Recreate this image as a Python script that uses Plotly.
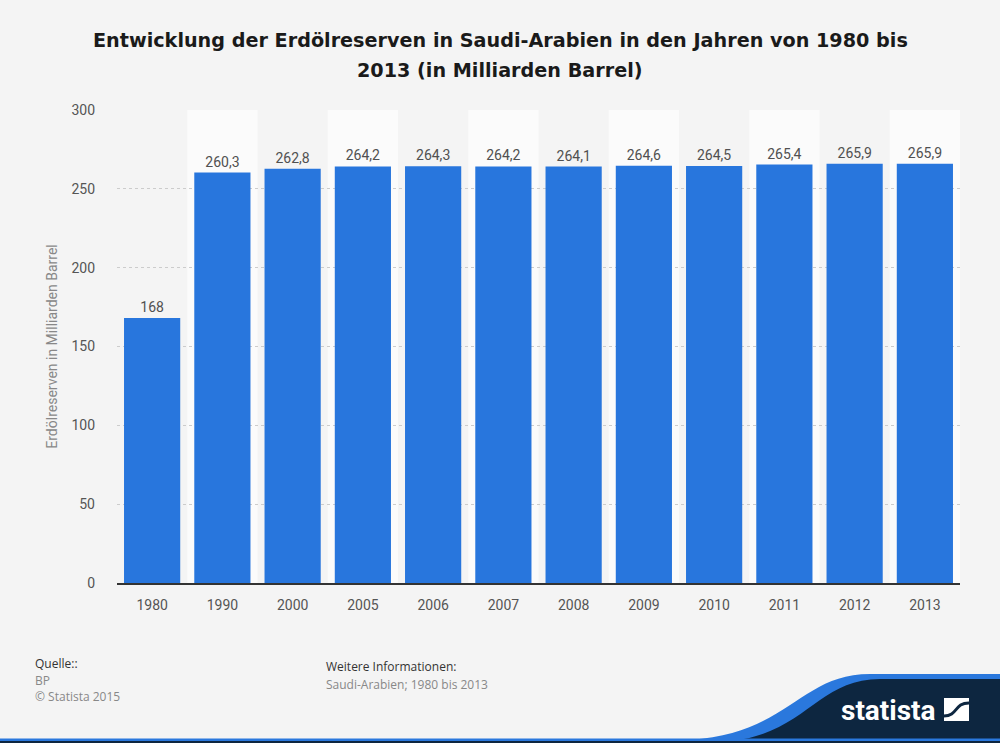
import plotly.graph_objects as go

years = ["1980", "1990", "2000", "2005", "2006", "2007", "2008", "2009", "2010", "2011", "2012", "2013"]
values = [168, 260.3, 262.8, 264.2, 264.3, 264.2, 264.1, 264.6, 264.5, 265.4, 265.9, 265.9]
labels = [f"{v:g}".replace(".", ",") for v in values]

W, H = 1000, 743
L, R, T, B = 117, 40, 110, 160
PW, PH = W - L - R, H - T - B


def px(x):
    return (x - L) / PW


def py(y):
    return (H - B - y) / PH


fig = go.Figure()
fig.add_trace(go.Bar(
    x=years, y=values, text=labels, textposition="outside",
    textfont=dict(family="Roboto", size=14, color="#505050"),
    marker=dict(color="#2876dd", line=dict(width=0)),
    cliponaxis=False, hoverinfo="x+y",
))

shapes = []
for i in range(len(years)):
    if i % 2 == 1:
        shapes.append(dict(type="rect", xref="x", yref="y", x0=i - 0.5, x1=i + 0.5, y0=0, y1=300,
                           fillcolor="#fbfbfb", line=dict(width=0), layer="below"))

# blue wave (behind dark band)
shapes.append(dict(type="path", xref="paper", yref="paper",
                   path="M %f %f C %f %f, %f %f, %f %f L %f %f L %f %f Z" % (
                       px(690), py(740), px(790), py(733), px(800), py(674), px(870), py(674),
                       px(1001), py(674), px(1001), py(740)),
                   fillcolor="#2a78dd", line=dict(width=0), layer="above"))
# dark band
shapes.append(dict(type="path", xref="paper", yref="paper",
                   path="M %f %f C %f %f, %f %f, %f %f L %f %f L %f %f Z" % (
                       px(720), py(742), px(805), py(738), px(815), py(679), px(880), py(679),
                       px(1001), py(679), px(1001), py(743)),
                   fillcolor="#0d2640", line=dict(width=0), layer="above"))
# bottom blue line
shapes.append(dict(type="rect", xref="paper", yref="paper", x0=px(-1), x1=px(1001), y0=py(741), y1=py(738.5),
                   fillcolor="#2a78dd", line=dict(width=0), layer="above"))
shapes.append(dict(type="rect", xref="paper", yref="paper", x0=px(-1), x1=px(1001), y0=py(744), y1=py(741),
                   fillcolor="#0d2640", line=dict(width=0), layer="above"))
# logo icon
shapes.append(dict(type="rect", xref="paper", yref="paper", x0=px(944), x1=px(969), y0=py(721), y1=py(698),
                   fillcolor="white", line=dict(width=0), layer="above"))
shapes.append(dict(type="path", xref="paper", yref="paper",
                   path="M %f %f C %f %f, %f %f, %f %f" % (px(944), py(716), px(958), py(716),
                                                          px(954), py(703), px(969), py(703)),
                   line=dict(color="#0d2640", width=3), layer="above"))
fig.update_layout(shapes=shapes)

fig.update_layout(
    width=W, height=H,
    paper_bgcolor="#f4f4f4", plot_bgcolor="#f4f4f4",
    margin=dict(l=L, r=R, t=T, b=B),
    bargap=0.2,
    showlegend=False,
    xaxis=dict(type="category", tickfont=dict(family="Roboto", size=14, color="#555555"),
               showline=True, linecolor="#333333", linewidth=2, ticks="", showgrid=False,
               ticklabelstandoff=8),
    yaxis=dict(range=[0, 300], tickvals=[0, 50, 100, 150, 200, 250, 300],
               tickfont=dict(family="Roboto", size=14, color="#555555"),
               showgrid=True, gridcolor="#cccccc", griddash="dot", gridwidth=1,
               zeroline=False, ticks="", ticklen=0, ticklabelstandoff=21,
               title=dict(text="Erdölreserven in Milliarden Barrel", standoff=10,
                          font=dict(family="Roboto", size=14, color="#888888"))),
)

for txt, y in [("Entwicklung der Erdölreserven in Saudi-Arabien in den Jahren von 1980 bis", 40),
               ("2013 (in Milliarden Barrel)", 71)]:
    fig.add_annotation(text="<b>%s</b>" % txt, xref="paper", yref="paper", x=px(500), y=py(y),
                       xanchor="center", yanchor="middle", showarrow=False,
                       font=dict(family="DejaVu Sans", size=19.2, color="#1a1a1a"))

ann = [
    ("Quelle::", 33, 663, "#333333"),
    ("BP", 33, 680, "#888888"),
    ("© Statista 2015", 33, 696, "#888888"),
    ("Weitere Informationen:", 324, 666, "#333333"),
    ("Saudi-Arabien; 1980 bis 2013", 324, 684, "#888888"),
]
for txt, x, y, c in ann:
    fig.add_annotation(text=txt, xref="paper", yref="paper", x=px(x), y=py(y),
                       xanchor="left", yanchor="middle", showarrow=False,
                       font=dict(family="Open Sans", size=12, color=c))

fig.add_annotation(text="<b>statista</b>", xref="paper", yref="paper",
                   x=px(938), y=py(710), xanchor="right", yanchor="middle",
                   showarrow=False, font=dict(family="Roboto", size=28, color="white"))

fig.write_html("out.html", post_script="document.body.style.margin='0';",
               config={"displayModeBar": False})
